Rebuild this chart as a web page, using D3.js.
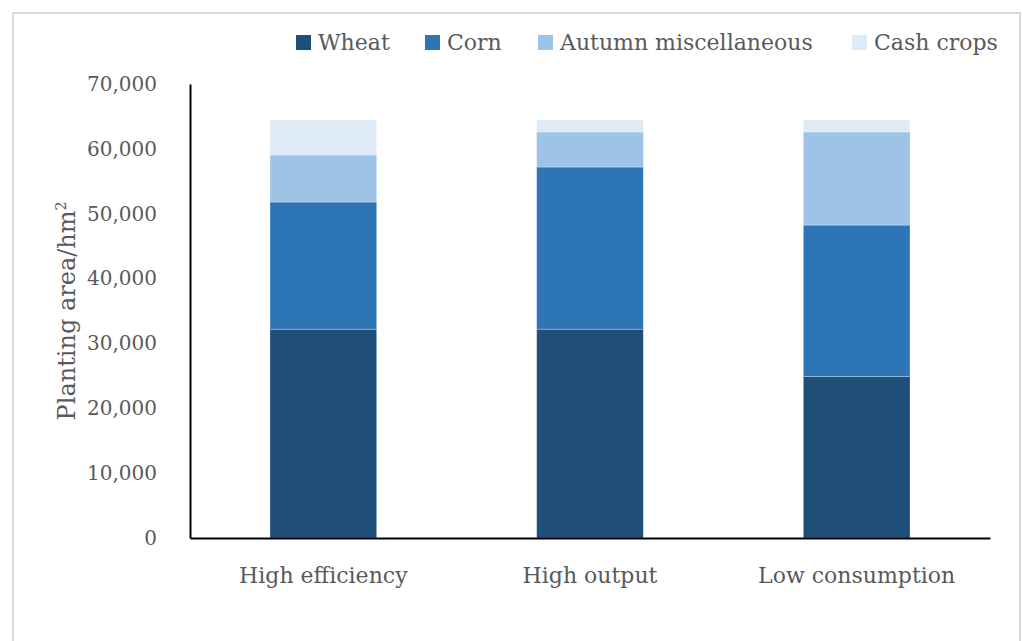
<!DOCTYPE html>
<html>
<head>
<meta charset="utf-8">
<script src="https://cdn.jsdelivr.net/npm/d3@7"></script>
<style>
  html, body { margin: 0; padding: 0; background: #fff; }
  svg { display: block; }
  text { font-family: "DejaVu Serif", "Liberation Serif", serif; fill: #595959; }
</style>
</head>
<body>
<svg id="chart" width="1022" height="641"></svg>
<script>
// Planting area by scenario, stacked by crop type (hm²)
const categories = ["High efficiency", "High output", "Low consumption"];
const seriesNames = ["Wheat", "Corn", "Autumn miscellaneous", "Cash crops"];
const wheat  = [32200, 32200, 24900];
const corn   = [19600, 25000, 23350];
const autumn = [7250, 5400, 14350];
const cash   = [5400, 1850, 1850];
const yTicks = [0, 10000, 20000, 30000, 40000, 50000, 60000, 70000];
const colors = ["#1f4e79", "#2e75b6", "#9dc3e6", "#deebf7"];

const rows = categories.map((c, i) => ({
  category: c,
  "Wheat": wheat[i],
  "Corn": corn[i],
  "Autumn miscellaneous": autumn[i],
  "Cash crops": cash[i]
}));

const svg = d3.select("#chart");
const margin = { left: 190, right: 990, top: 84, bottom: 538 };

// light frame around the chart area
svg.append("path")
  .attr("d", "M13,641 V13 H1020 V641")
  .attr("fill", "none")
  .attr("stroke", "#d9d9d9")
  .attr("stroke-width", 2);

const x = d3.scaleBand()
  .domain(categories)
  .range([margin.left, margin.right])
  .paddingInner(0.6)
  .paddingOuter(0.3);

const y = d3.scaleLinear()
  .domain([0, 70000])
  .range([margin.bottom, margin.top]);

const color = d3.scaleOrdinal().domain(seriesNames).range(colors);

const stacked = d3.stack().keys(seriesNames)(rows);

svg.append("g")
  .selectAll("g")
  .data(stacked)
  .join("g")
  .attr("fill", d => color(d.key))
  .selectAll("rect")
  .data(d => d)
  .join("rect")
  .attr("x", d => x(d.data.category))
  .attr("width", x.bandwidth())
  .attr("y", d => y(d[1]))
  .attr("height", d => y(d[0]) - y(d[1]))
  .attr("stroke", "#ffffff")
  .attr("stroke-opacity", 0.35)
  .attr("stroke-width", 0.8);

// y axis
const yAxis = svg.append("g")
  .attr("transform", `translate(${margin.left},0)`)
  .call(d3.axisLeft(y).tickValues(yTicks).tickFormat(d3.format(",")).tickSize(0).tickPadding(33));
yAxis.select(".domain").attr("stroke", "#000").attr("stroke-width", 2);
yAxis.selectAll(".tick text")
  .attr("font-size", 20)
  .attr("fill", "#595959")
  .style("font-family", "DejaVu Serif, serif");

// x axis
const xAxis = svg.append("g")
  .attr("transform", `translate(0,${margin.bottom})`)
  .call(d3.axisBottom(x).tickSize(0).tickPadding(29));
xAxis.select(".domain").attr("stroke", "#000").attr("stroke-width", 2);
xAxis.selectAll(".tick text")
  .attr("font-size", 22)
  .attr("fill", "#595959")
  .style("font-family", "DejaVu Serif, serif");

// y axis title
const yTitle = svg.append("text")
  .attr("transform", "translate(75,311) rotate(-90)")
  .attr("text-anchor", "middle")
  .attr("font-size", 24);
yTitle.append("tspan").text("Planting area/hm");
yTitle.append("tspan").attr("font-size", 14).attr("dy", -9).text("2");

// legend
const legendX = [296, 425, 538, 852];
const legend = svg.append("g");
seriesNames.forEach((name, i) => {
  const g = legend.append("g").attr("transform", `translate(${legendX[i]},35)`);
  g.append("rect").attr("width", 15).attr("height", 15).attr("fill", color(name));
  g.append("text")
    .attr("x", 22)
    .attr("y", 15)
    .attr("font-size", 22)
    .text(name);
});
</script>
</body>
</html>
